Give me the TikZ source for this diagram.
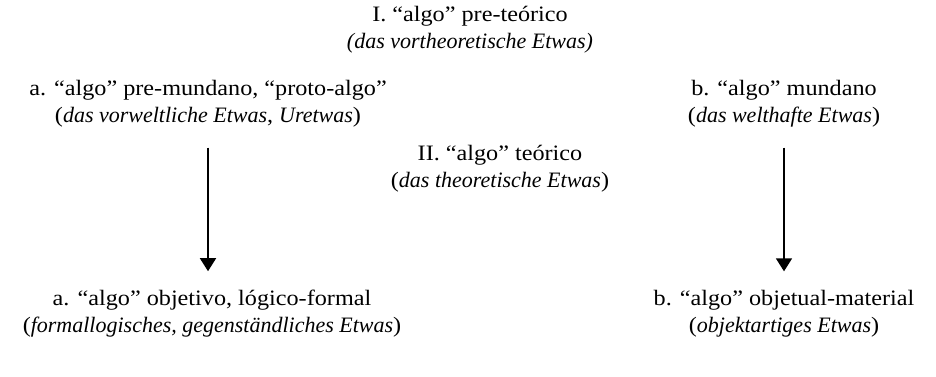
\documentclass[tikz,border=0pt]{standalone}
\usepackage{fontspec}
\setmainfont{Liberation Serif}[UprightFeatures={FakeStretch=1.1}]
\usetikzlibrary{arrows.meta, positioning}
\tikzset{
  stufe/.style = {align=center, font=\fontsize{22}{27}\selectfont, inner sep=0pt},
  pfeil/.style = {-{Triangle[width=16pt, length=13pt]}, line width=1.6pt, shorten <=20pt, shorten >=19pt}
}

\begin{document}
\begin{tikzpicture}[x=1pt, y=1pt]
  \useasboundingbox (0,0) rectangle (936,377);

  % I. (oben)
  \node[stufe] (vorth) at (470,347) {I. “algo” pre-teórico\\ \textit{(das vortheoretische Etwas)}};

  % a. / b. (Mitte)
  \node[stufe] (vorwelt) at (208,273) {a. “algo” pre-mundano, “proto-algo”\\ (\textit{das vorweltliche Etwas}, \textit{Uretwas})};
  \node[stufe] (welt)    at (784,273) {b. “algo” mundano\\ (\textit{das welthafte Etwas})};

  % II.
  \node[stufe] (theor) at (500,208) {II. “algo” teórico\\ (\textit{das theoretische Etwas})};

  % a. / b. (unten)
  \node[stufe] (formal) at (212,63) {a. “algo” objetivo, lógico-formal\\ (\textit{formallogisches, gegenständliches Etwas})};
  \node[stufe] (objekt) at (784,63) {b. “algo” objetual-material\\ (\textit{objektartiges Etwas})};

  \draw[pfeil] (vorwelt.south) -- (vorwelt.south |- formal.north);
  \draw[pfeil] (welt) -- (objekt);

\end{tikzpicture}
\end{document}
